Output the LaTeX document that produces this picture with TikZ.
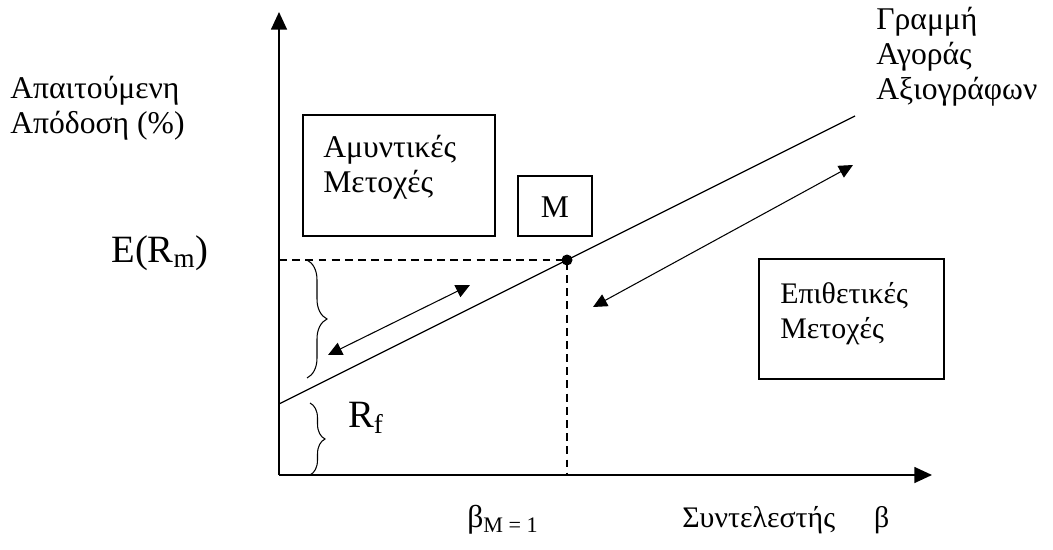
\documentclass[tikz,border=0pt]{standalone}
\usepackage{fontspec}
\setmainfont{Liberation Serif}
\usetikzlibrary{arrows.meta, decorations.pathreplacing}

\begin{document}
\begin{tikzpicture}[x=0.02cm, y=-0.02cm, >={Triangle[length=10pt,width=9pt]},
  txt/.style={font=\fontsize{18}{20}\selectfont, align=left, inner sep=0pt},
  sml/.style={font=\fontsize{17}{20}\selectfont, align=left, inner sep=0pt},
  big/.style={font=\fontsize{22}{24}\selectfont, inner sep=0pt},
  dbl/.style={{Triangle[length=8pt,width=7.5pt]}-{Triangle[length=8pt,width=7.5pt]}, line width=0.6pt},
  brc/.style={decorate, decoration={brace, amplitude=#1}, line width=0.6pt}]
  \useasboundingbox (0,0) rectangle (1053,550);
  % axes
  \coordinate (O) at (279,475);
  \coordinate (ytop) at (279,12);
  \coordinate (xend) at (932,475);
  \draw[->, line width=1pt] (O) -- (ytop);
  \draw[->, line width=1pt] (O) -- (xend);
  % security market line through M
  \coordinate (rf0) at (279,404);
  \coordinate (M) at (567,260);
  \coordinate (smlend) at (855,116);
  \draw[line width=0.7pt] (rf0) -- (M) -- (smlend);
  \draw[dashed, dash pattern=on 4.5pt off 3pt, line width=0.6pt] (279,260) -- (M) -- (567,475);
  \fill (M) circle (5.5);
  % braces
  \draw[brc=0.4cm] (307,260) -- (307,378);
  \draw[brc=0.3cm] (310,403) -- (310,475);
  % double arrows
  \coordinate (a1) at (328,355);
  \coordinate (a2) at (470,285);
  \coordinate (b1) at (593,307);
  \coordinate (b2) at (853,165);
  \draw[dbl] (a1) -- (a2);
  \draw[dbl] (b1) -- (b2);
  % boxes
  \draw[line width=1pt] (303,115) rectangle (495,236);
  \draw[line width=1pt] (518,176) rectangle (592,236);
  \draw[line width=1pt] (759,259) rectangle (944,379);
  \node[txt, anchor=west] (deftxt) at (323,167) {Αμυντικές\\Μετοχές};
  \node[txt] (mtxt) at (555,207) {M};
  \node[sml, anchor=west] (aggtxt) at (780,314) {Επιθετικές\\Μετοχές};
  % labels
  \node[txt, anchor=west] (ylab) at (10,108) {Απαιτούμενη\\Απόδοση (\%)};
  \node[txt, anchor=west] (smllab) at (876,57) {Γραμμή\\Αγοράς\\Αξιογράφων};
  \node[big] (erm) at (160,253) {E(R\textsubscript{m})};
  \node[big] (rf) at (366,418) {R\textsubscript{f}};
  \node[txt] (bm) at (503,520) {β\textsubscript{M = 1}};
  \node[sml, anchor=west] (xlab) at (682,520) {Συντελεστής\hspace{1.3em}β};
\end{tikzpicture}
\end{document}
